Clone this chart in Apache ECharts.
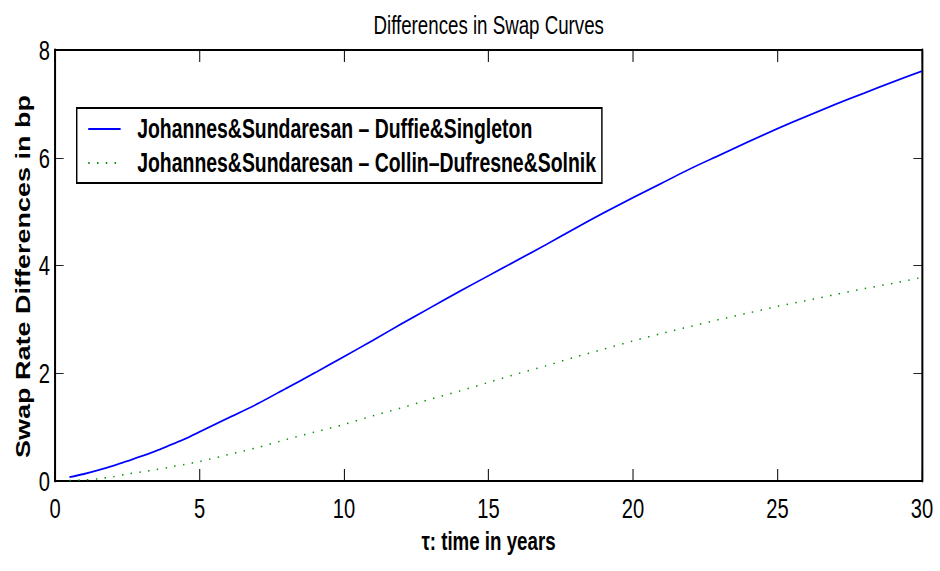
<!DOCTYPE html>
<html>
<head>
<meta charset="utf-8">
<script src="https://cdn.jsdelivr.net/npm/echarts@6/dist/echarts.min.js"></script>
<style>
html,body{margin:0;padding:0;background:#fff;overflow:hidden;}
#wrap{width:940px;height:571px;overflow:hidden;position:relative;}
#chart{width:1306px;height:571px;transform:scaleX(0.71975);transform-origin:0 0;}
</style>
</head>
<body>
<div id="wrap"><div id="chart"></div></div>
<script>
var tau = [0.5,1,1.5,2,2.5,3,3.5,4,4.5,5,6,7,8,9,10,11,12,13,14,15,16,17,18,19,20,21,22,23,24,25,26,27,28,29,30];
var jsMinusDS = [0.07,0.13,0.20,0.28,0.37,0.46,0.56,0.67,0.78,0.91,1.17,1.43,1.72,2.01,2.31,2.61,2.92,3.22,3.52,3.81,4.10,4.39,4.69,4.98,5.26,5.53,5.80,6.05,6.30,6.54,6.77,6.99,7.20,7.41,7.61];
var jsMinusCDS = [0.01,0.02,0.04,0.08,0.13,0.17,0.21,0.26,0.31,0.36,0.49,0.62,0.77,0.91,1.05,1.21,1.36,1.52,1.67,1.83,1.99,2.14,2.30,2.45,2.60,2.74,2.87,3.00,3.12,3.24,3.35,3.46,3.57,3.67,3.78];
var seriesNames = ['Johannes&Sundaresan \u2013 Duffie&Singleton','Johannes&Sundaresan \u2013 Collin\u2013Dufresne&Solnik'];
var titleText = 'Differences in Swap Curves';
var xName = '\u03c4: time in years';
var yName = 'Swap Rate Differences in bp';

var font = "'Liberation Sans',Arial,Helvetica,sans-serif";

function pairs(xs, ys){ return xs.map(function(x,i){ return [x, ys[i]]; }); }

var chart = echarts.init(document.getElementById('chart'), null, {renderer:'svg', width:1306, height:571});
chart.setOption({
  animation:false,
  backgroundColor:'#fff',
  title:{
    text:titleText, left:674, textAlign:'center', top:7,
    textStyle:{fontFamily:font, fontSize:26, fontWeight:'normal', color:'#000'}
  },
  grid:{left:76.4, right:25, top:50, bottom:90, containLabel:false},
  legend:{
    orient:'vertical', left:106.6, top:108,
    padding:[4,8,3,15], itemGap:0,
    itemWidth:45, itemHeight:10,
    borderColor:'#000', borderWidth:2, backgroundColor:'#fff',
    itemStyle:{opacity:0},
    textStyle:{fontFamily:font, fontSize:27, fontWeight:'bold', color:'#000', lineHeight:34, padding:[0,0,0,18]},
    data:[seriesNames[0], seriesNames[1]]
  },
  xAxis:[{
    type:'value', min:0, max:30, interval:5, position:'bottom',
    name:xName, nameLocation:'middle', nameGap:47, nameMoveOverlap:false,
    nameTextStyle:{fontFamily:font, fontSize:26, fontWeight:'bold', color:'#000'},
    axisLine:{show:true, onZero:false, lineStyle:{color:'#000', width:2}},
    axisTick:{show:true, inside:true, length:12, lineStyle:{color:'#000', width:1.4}},
    axisLabel:{fontFamily:font, fontSize:28, color:'#000', margin:13},
    splitLine:{show:false}
  },{
    type:'value', min:0, max:30, interval:5, position:'top',
    axisLine:{show:true, onZero:false, lineStyle:{color:'#000', width:2}},
    axisTick:{show:true, inside:true, length:12, lineStyle:{color:'#000', width:1.4}},
    axisLabel:{show:false}, splitLine:{show:false}
  }],
  yAxis:[{
    type:'value', min:0, max:8, interval:2, position:'left',
    name:yName, nameLocation:'middle', nameGap:30, nameRotate:90, nameMoveOverlap:false,
    nameTextStyle:{fontFamily:font, fontSize:27, fontWeight:'bold', color:'#000', padding:[0,22,0,0]},
    axisLine:{show:true, onZero:false, lineStyle:{color:'#000', width:2.8}},
    axisTick:{show:true, inside:true, length:12, lineStyle:{color:'#000', width:1}},
    axisLabel:{fontFamily:font, fontSize:28, color:'#000', margin:7},
    splitLine:{show:false}
  },{
    type:'value', min:0, max:8, interval:2, position:'right',
    axisLine:{show:true, onZero:false, lineStyle:{color:'#000', width:2.8}},
    axisTick:{show:true, inside:true, length:12, lineStyle:{color:'#000', width:1}},
    axisLabel:{show:false}, splitLine:{show:false}
  }],
  series:[{
    name:seriesNames[0], type:'line', showSymbol:false, symbol:'none',
    data:pairs(tau, jsMinusDS), smooth:0.3,
    lineStyle:{color:'#0000ff', width:1.8, type:'solid'},
    itemStyle:{color:'#0000ff'}
  },{
    name:seriesNames[1], type:'line', showSymbol:false, symbol:'none',
    data:pairs(tau, jsMinusCDS), smooth:0.3,
    lineStyle:{color:'#009000', width:1.5, type:[2,10.2]},
    itemStyle:{color:'#009000'}
  }]
});
</script>
</body>
</html>
